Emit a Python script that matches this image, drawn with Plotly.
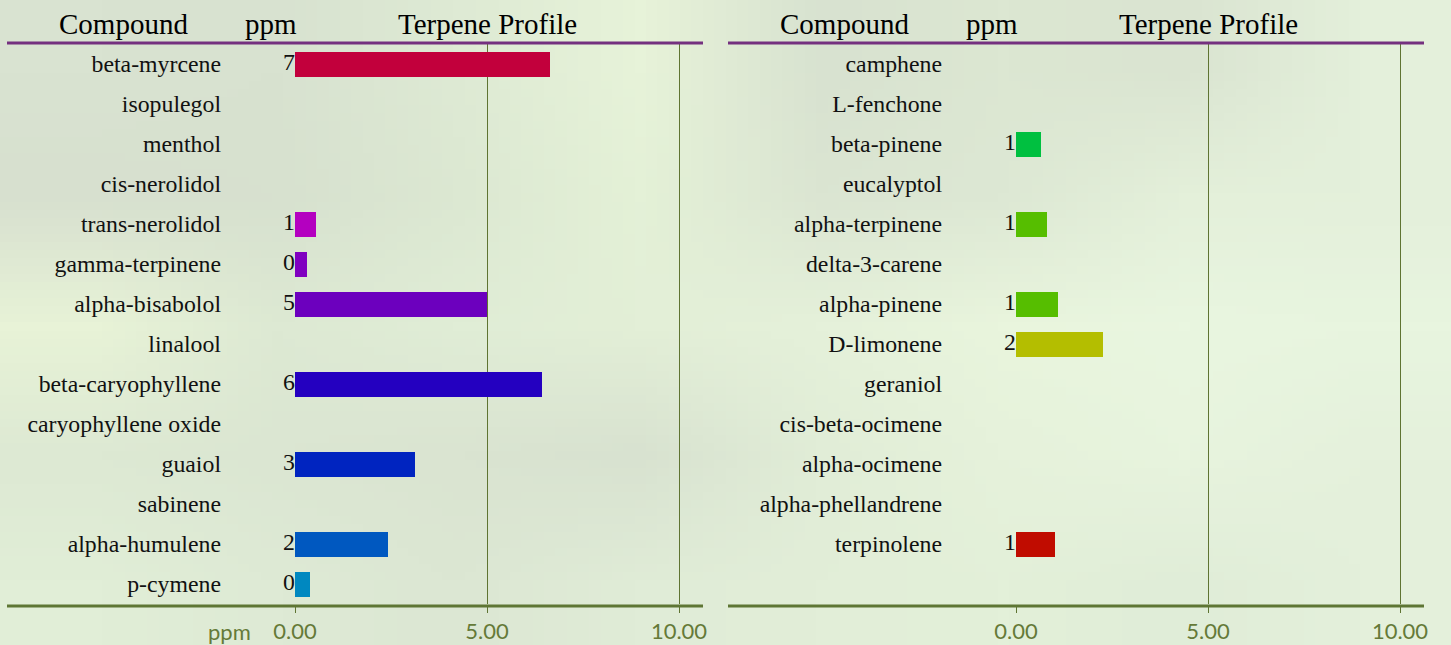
import base64, struct, zlib
import plotly.graph_objects as go

# ---------------- data ----------------
left_compounds = ["beta-myrcene", "isopulegol", "menthol", "cis-nerolidol", "trans-nerolidol",
                  "gamma-terpinene", "alpha-bisabolol", "linalool", "beta-caryophyllene",
                  "caryophyllene oxide", "guaiol", "sabinene", "alpha-humulene", "p-cymene"]
left_ppm = [6.64, None, None, None, 0.55, 0.30, 5.00, None, 6.43, None, 3.12, None, 2.42, 0.39]
left_colors = ["#C2003C", None, None, None, "#B400C0", "#8000C0", "#6C00BE", None, "#2400C0",
               None, "#0024C0", None, "#0058C0", "#0088C0"]

right_compounds = ["camphene", "L-fenchone", "beta-pinene", "eucalyptol", "alpha-terpinene",
                   "delta-3-carene", "alpha-pinene", "D-limonene", "geraniol", "cis-beta-ocimene",
                   "alpha-ocimene", "alpha-phellandrene", "terpinolene"]
right_ppm = [None, None, 0.65, None, 0.81, None, 1.09, 2.27, None, None, None, None, 1.02]
right_colors = [None, None, "#00C040", None, "#56BE00", None, "#56BE00", "#B4BE00", None,
                None, None, None, "#C00C00"]

x_ticks = [0, 5, 10]
x_ticktext = ["0.00", "5.00", "10.00"]
headers = ["Compound", "ppm", "Terpene Profile"]

# ---------------- background (blurred look) ----------------
bg_rows = [
    ["#D9E3D1", "#D8E2D0", "#DEEAD4", "#E7F3D9", "#D8E2D0", "#DCE7D2", "#DAE4D1", "#E4F0DB"],
    ["#D7E0CF", "#D7E1CF", "#DCE8D2", "#E4F1D7", "#DBE5D2", "#DDE8D4", "#E4F0DA", "#E4F0DB"],
    ["#E8F3D7", "#DDE9D3", "#E0EDD6", "#E3EFD7", "#E5F1DA", "#E9F5DD", "#E9F6E0", "#E8F5DF"],
    ["#DDE9D3", "#DBE6D2", "#DAE4D1", "#D8E2D0", "#E1EDD7", "#E6F2DB", "#E8F4DE", "#E5F1DC"],
    ["#E1EED7", "#DEEAD5", "#DCE7D3", "#E0ECD7", "#E2EED8", "#E3F0D9", "#E0EDD8", "#E4F0DB"],
]


def png_uri(rows):
    h = len(rows)
    w = len(rows[0])
    raw = b""
    for r in rows:
        raw += b"\x00" + bytes(int(c[i:i + 2], 16) for c in r for i in (1, 3, 5))

    def chunk(tag, data):
        c = struct.pack(">I", len(data)) + tag + data
        return c + struct.pack(">I", zlib.crc32(tag + data) & 0xFFFFFFFF)

    png = b"\x89PNG\r\n\x1a\n" + chunk(b"IHDR", struct.pack(">IIBBBBB", w, h, 8, 2, 0, 0, 0))
    png += chunk(b"IDAT", zlib.compress(raw)) + chunk(b"IEND", b"")
    return "data:image/png;base64," + base64.b64encode(png).decode()


# ---------------- layout geometry (pixels) ----------------
W, H = 1451, 645
ML, MR, MT, MB = 7, 27, 44, 41
PW = W - ML - MR
PH = H - MT - MB
OFF = 721  # shift between the two panels


def px(x):
    return (x - ML) / PW


def py(y):
    return (H - MB - y) / PH


OLIVE = "#5F7432"
TICKC = "#657A38"
SERIF = "Liberation Serif, Times New Roman, serif"
SANS = "Lato, Open Sans, sans-serif"

fig = go.Figure()

panels = [
    (left_compounds, left_ppm, left_colors, "x", "y"),
    (right_compounds, right_ppm, right_colors, "x2", "y2"),
]
for comps, vals, cols, xa, ya in panels:
    idx = [i for i, v in enumerate(vals) if v is not None]
    fig.add_trace(go.Bar(
        x=[vals[i] for i in idx], y=idx, orientation="h",
        marker=dict(color=[cols[i] for i in idx], line=dict(width=0)),
        width=0.625, xaxis=xa, yaxis=ya, showlegend=False, hoverinfo="skip"))
    fig.add_trace(go.Scatter(
        x=[0] * len(idx), y=idx, mode="text",
        text=[str(round(vals[i])) for i in idx], textposition="middle left",
        textfont=dict(family=SERIF, size=23.8, color="#111111"),
        xaxis=xa, yaxis=ya, showlegend=False, hoverinfo="skip", cliponaxis=False))

xcommon = dict(range=[0, 10.625], tickvals=x_ticks, ticktext=x_ticktext, showgrid=True,
               gridcolor=OLIVE, gridwidth=1, zeroline=False, showline=False,
               ticks="outside", ticklen=8, tickcolor=OLIVE, tickwidth=1,
               tickfont=dict(family=SANS, size=22, color=TICKC), fixedrange=True,
               automargin=False)
ycommon = dict(range=[13.5, -0.5], showgrid=False, zeroline=False, showline=False, ticks="",
               tickfont=dict(family=SERIF, size=23.8, color="#111111"),
               ticklabelstandoff=73, fixedrange=True, automargin=False)

fig.update_layout(
    width=W, height=H, margin=dict(l=ML, r=MR, t=MT, b=MB, autoexpand=False),
    paper_bgcolor="#E0ECD6", plot_bgcolor="rgba(0,0,0,0)",
    xaxis=dict(domain=[px(295), px(703)], anchor="y", **xcommon),
    xaxis2=dict(domain=[px(295 + OFF), px(703 + OFF)], anchor="y2", **xcommon),
    yaxis=dict(anchor="x", tickvals=list(range(len(left_compounds))), ticktext=left_compounds, **ycommon),
    yaxis2=dict(anchor="x2", tickvals=list(range(len(right_compounds))), ticktext=right_compounds, **ycommon),
    bargap=0,
)

fig.add_layout_image(dict(source=png_uri(bg_rows), xref="paper", yref="paper",
                          x=px(0), y=py(0), sizex=px(W) - px(0), sizey=py(0) - py(H),
                          xanchor="left", yanchor="top", sizing="stretch", layer="below"))

shapes = []
annos = []
for k in (0, OFF):
    shapes.append(dict(type="line", xref="paper", yref="paper", x0=px(7 + k), x1=px(703 + k),
                       y0=py(43), y1=py(43), line=dict(color="#74307F", width=3)))
    shapes.append(dict(type="line", xref="paper", yref="paper", x0=px(7 + k), x1=px(703 + k),
                       y0=py(606), y1=py(606), line=dict(color="#5E7634", width=3)))
    for text, cx in zip(headers, (123, 271, 487)):
        annos.append(dict(text=text, x=px(cx + k), y=py(24), xref="paper", yref="paper",
                          xanchor="center", yanchor="middle", showarrow=False,
                          font=dict(family=SERIF, size=29, color="#000000")))
annos.append(dict(text="ppm", x=px(229), y=py(631), xref="paper", yref="paper",
                  xanchor="center", yanchor="middle", showarrow=False,
                  font=dict(family=SANS, size=22, color=TICKC)))
fig.update_layout(shapes=shapes, annotations=annos)

fig.write_html("out.html", config={"displayModeBar": False, "staticPlot": True},
               post_script="document.body.style.margin='0';document.body.style.overflow='hidden';")
